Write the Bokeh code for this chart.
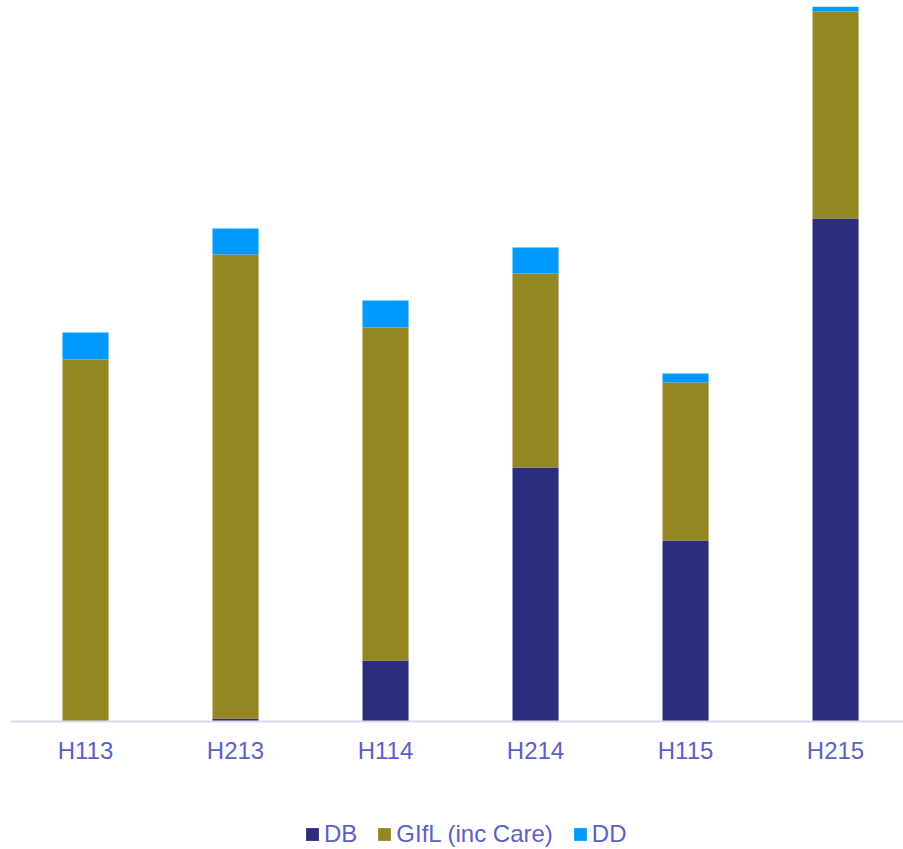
from bokeh.plotting import figure
from bokeh.models import ColumnDataSource, Range1d, Legend, LegendItem, FixedTicker
from bokeh.embed import file_html
from bokeh.resources import INLINE

periods = ["H113", "H213", "H114", "H214", "H115", "H215"]
db = [0.0, 0.3, 6.1, 25.4, 18.1, 50.3]
gifl = [36.2, 46.4, 33.3, 19.4, 15.8, 20.7]
dd = [2.7, 2.6, 2.7, 2.6, 0.9, 0.5]
series = ["DB", "GIfL (inc Care)", "DD"]
colors = ["#2B2C7C", "#948620", "#0099FF"]

xs = list(range(len(periods)))
src = ColumnDataSource(dict(x=xs, DB=db, GIfL=gifl, DD=dd))

label_color = "#5B5FC7"
font = "Liberation Sans"

p = figure(frame_width=893, frame_height=843,
           x_range=Range1d(-0.5, 5.453), y_range=Range1d(-12.8, 71.5),
           output_backend="svg", toolbar_location=None,
           min_border_left=10, min_border_right=0, min_border_top=6, min_border_bottom=0)

rs = p.vbar_stack(["DB", "GIfL", "DD"], x="x", width=0.307, color=colors,
                  line_color=None, source=src)

p.yaxis.visible = False
p.xgrid.visible = False
p.ygrid.visible = False
p.outline_line_color = None

p.xaxis.fixed_location = 0
p.xaxis.ticker = FixedTicker(ticks=xs)
p.xaxis.major_label_overrides = {i: lab for i, lab in zip(xs, periods)}
p.xaxis.axis_line_color = "#D9D9F0"
p.xaxis.axis_line_width = 2
p.xaxis.major_tick_line_color = None
p.xaxis.minor_tick_line_color = None
p.xaxis.major_label_text_color = label_color
p.xaxis.major_label_text_font = font
p.xaxis.major_label_text_font_size = "24px"
p.xaxis.major_label_standoff = 9

legend = Legend(items=[LegendItem(label=s, renderers=[r]) for s, r in zip(series, rs)],
                orientation="horizontal", location=(294, 1),
                border_line_color=None, background_fill_alpha=0,
                label_text_font=font, label_text_font_size="24px",
                label_text_color=label_color,
                glyph_width=16, glyph_height=16, label_standoff=4,
                spacing=19, padding=0, margin=0)
p.add_layout(legend, "center")

open("out.html", "w").write(file_html(p, INLINE))
